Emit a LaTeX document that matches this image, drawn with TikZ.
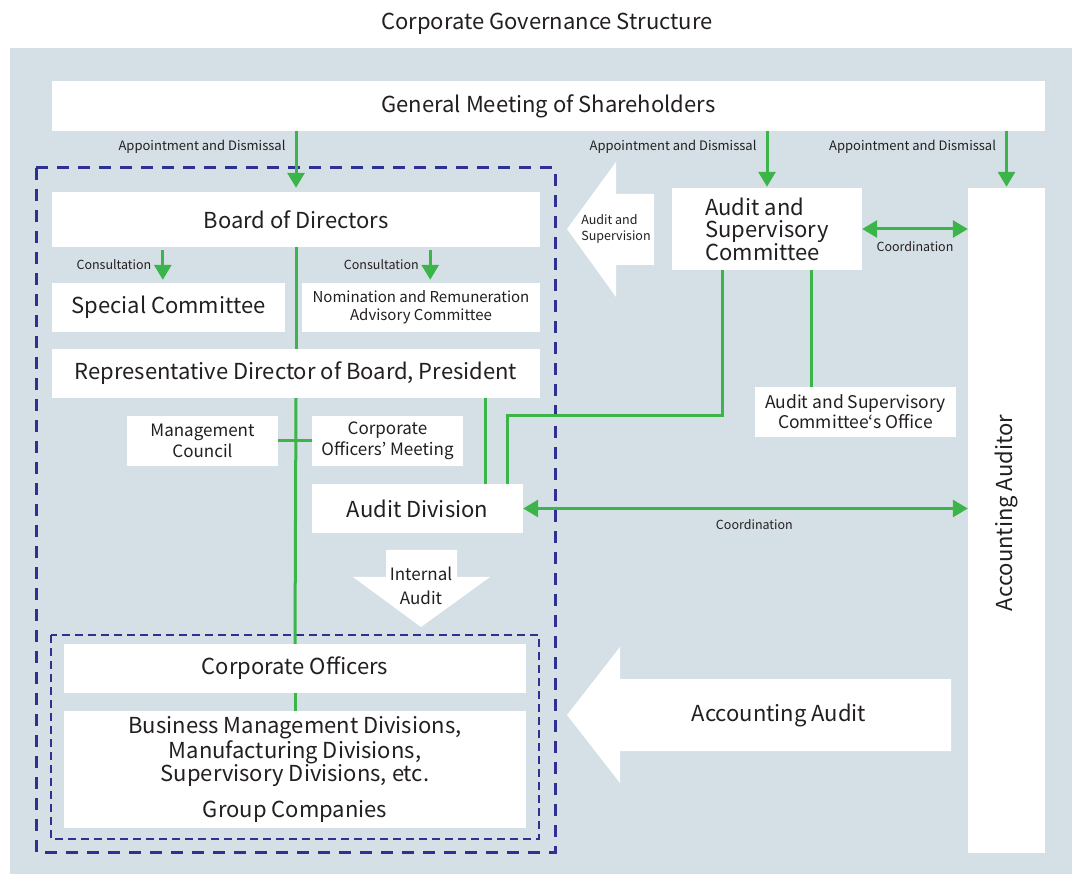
\documentclass[tikz,border=0pt]{standalone}
\usepackage{fontspec}
\setmainfont{Noto Sans CJK JP}
\usetikzlibrary{arrows.meta}
\usetikzlibrary{positioning}

\definecolor{panel}{RGB}{213,224,230}
\definecolor{grn}{RGB}{59,181,74}
\definecolor{navy}{RGB}{46,49,146}
\definecolor{ink}{RGB}{35,31,32}

\begin{document}
\begin{tikzpicture}[x=1pt, y=-1pt,
    every node/.style = {inner sep=0pt, text=ink},
    box/.style   = {fill=white, align=center},
    big/.style   = {font=\fontsize{22}{23}\selectfont},
    mid/.style   = {font=\fontsize{17}{21}\selectfont},
    sml/.style   = {font=\fontsize{15}{18}\selectfont},
    lbl/.style   = {font=\fontsize{12.5}{16}\selectfont},
    gline/.style = {draw=grn, line width=3pt},
    garrow/.style = {gline, -{Triangle[width=17pt,length=15pt]}},
    gboth/.style  = {gline, {Triangle[width=17pt,length=15pt]}-{Triangle[width=17pt,length=15pt]}},
    bigarrow/.style = {fill=white},
    outerdash/.style = {draw=navy, line width=3pt, dash pattern=on 12pt off 9pt},
    innerdash/.style = {draw=navy, line width=1.5pt, dash pattern=on 8pt off 5pt}]

\useasboundingbox (0,0) rectangle (1072,874);
\fill[panel] (10,48) rectangle (1072,874);

\node[big] (title) at (547,24) {Corporate Governance Structure};

\node[box, big, minimum width=993, minimum height=50] (gms) at (548.5,106) {General Meeting of Shareholders};

% left block
\node[box, big, minimum width=488, minimum height=55] (bod) at (296,219.5) {Board of Directors};
\node[box, big, minimum width=233, minimum height=49] (spc) at (168.5,307.5) {Special Committee};
\node[box, sml, minimum width=238, minimum height=49] (nrc) at (421,307.5) {Nomination and Remuneration\\Advisory Committee};
\node[box, big, minimum width=488, minimum height=49] (rep) at (296,373.5) {Representative Director of Board, President};
\node[box, mid, minimum width=151, minimum height=50] (mgc) at (202.5,441) {Management\\Council};
\node[box, mid, minimum width=151, minimum height=50] (com) at (387.5,441) {Corporate\\Officers’ Meeting};
\node[box, big, minimum width=211, minimum height=49] (adv) at (417.5,508.5) {Audit Division};
\node[box, big, minimum width=462, minimum height=49] (cof) at (295,668.5) {Corporate Officers};
\node[box, big, minimum width=462, minimum height=117] (bmd) at (295,769.5)
     {Business Management Divisions,\\Manufacturing Divisions,\\Supervisory Divisions, etc.\\[13pt]Group Companies};

% right block
\node[box, font=\fontsize{22}{22}\selectfont, align=left, minimum width=190, minimum height=82] (asc) at (767,229)
     {Audit and\\Supervisory\\Committee};
\node[box, font=\fontsize{17.5}{20}\selectfont, minimum width=201, minimum height=50] (aso) at (855.5,412)
     {Audit and Supervisory\\Committee‘s Office};
\node[box, minimum width=77, minimum height=665] (aac) at (1006.5,520.5) {};
\node[big, rotate=90] (aactext) at (1006.5,513) {Accounting Auditor};

% big white arrows
\fill[bigarrow] (654,194) -- (616,194) -- (616,162) -- (567,229) -- (616,297) -- (616,265) -- (654,265) -- cycle;
\node[lbl, align=left] (aus) at (616,229) {Audit and\\Supervision};
\fill[bigarrow] (386,550) -- (457,550) -- (457,577) -- (490,577) -- (421,627) -- (353,577) -- (386,577) -- cycle;
\node[align=center, font=\fontsize{17}{24}\selectfont] (iau) at (421,586) {Internal\\Audit};
\fill[bigarrow] (951,679) -- (620,679) -- (620,647) -- (567,715) -- (620,783) -- (620,751) -- (951,751) -- cycle;
\node[big] (acc) at (779,715) {Accounting Audit};

% dashed frames
\draw[outerdash] (36,168) rectangle (555,852);
\draw[innerdash] (51,635) rectangle (539,839);

% connectors
\draw[garrow] (gms.south -| bod.north) -- node[lbl, font=\fontsize{13}{16}\selectfont, pos=0.28, left=9pt] (app1) {Appointment and Dismissal} ([yshift=4pt]bod.north);
\draw[garrow] (gms.south -| asc.north) -- node[lbl, font=\fontsize{13}{16}\selectfont, pos=0.28, left=9pt] (app2) {Appointment and Dismissal} ([yshift=1pt]asc.north);
\draw[garrow] (gms.south -| aac.north) -- node[lbl, font=\fontsize{13}{16}\selectfont, pos=0.28, left=9pt] (app3) {Appointment and Dismissal} ([yshift=1pt]aac.north);

\draw[garrow] ([xshift=111pt,yshift=-3pt]bod.south west) -- node[lbl, left=10pt] (con1) {Consultation} ([xshift=111pt,yshift=3pt]bod.south west |- spc.north);
\draw[garrow] ([xshift=-110pt,yshift=-3pt]bod.south east) -- node[lbl, left=10pt] (con2) {Consultation} ([xshift=-110pt,yshift=3pt]bod.south east |- nrc.north);

\draw[gline] (bod.south) -- (rep.north);
\draw[gline] (rep.south) -- (cof.north);
\draw[gline] (cof.south) -- (bmd.north);
\draw[gline] (mgc.east) -- (com.west);
\draw[gline] ([xshift=-38pt]adv.north east |- rep.south) -- ([xshift=-38pt]adv.north east);
\draw[gline] ([xshift=-45pt]asc.south) |- ([xshift=-16pt,yshift=68pt]adv.north east) -- ([xshift=-16pt]adv.north east);
\draw[gline] ([xshift=44pt]asc.south) -- ([xshift=44pt]asc.south |- aso.north);

\draw[gboth] (asc.east) -- node[lbl, below=11pt] (crd1) {Coordination} (aac.west |- asc.east);
\draw[gboth] (adv.east) -- node[lbl, pos=0.52, below=10pt] (crd2) {Coordination} (aac.west |- adv.east);

%\node[below=of aac] {};
\end{tikzpicture}
\end{document}
